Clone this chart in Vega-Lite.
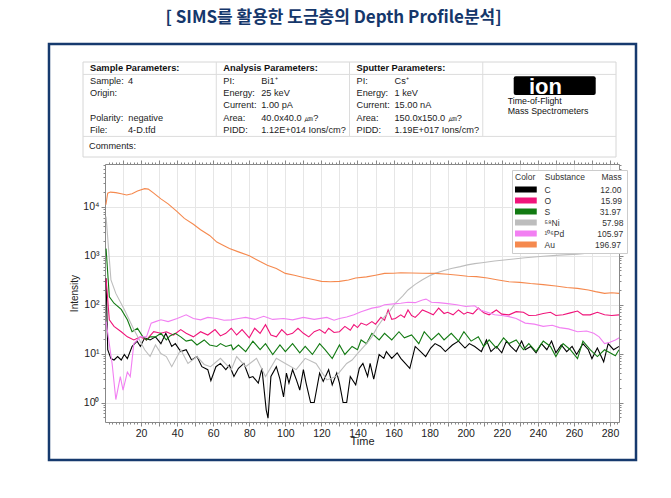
{
"$schema": "https://vega.github.io/schema/vega-lite/v6.json",
"background": "white",
"padding": {"left": 47, "top": 8, "right": 5, "bottom": 5},
"title": {"text": "[ SIMS를 활용한 도금층의 Depth Profile분석]", "font": "Noto Sans CJK KR", "fontSize": 17, "fontWeight": "bold", "color": "#15376b", "anchor": "middle", "offset": 16, "dx": -9},
"bounds": "flush",
"spacing": 7,
"config": {"font": "Liberation Sans", "view": {"stroke": null}},
"datasets": {
"cells": [
{"col":0,"row":0,"label":"Sample Parameters:","value":""},
{"col":1,"row":0,"label":"Analysis Parameters:","value":""},
{"col":2,"row":0,"label":"Sputter Parameters:","value":""},
{"col":0,"row":1,"label":"Sample:","value":"4"},
{"col":0,"row":2,"label":"Origin:","value":""},
{"col":0,"row":4,"label":"Polarity:\u00a0\u00a0negative","value":""},
{"col":0,"row":5,"label":"File:","value":"4-D.tfd"},
{"col":1,"row":1,"label":"PI:","value":"Bi1⁺"},
{"col":1,"row":2,"label":"Energy:","value":"25 keV"},
{"col":1,"row":3,"label":"Current:","value":"1.00 pA"},
{"col":1,"row":4,"label":"Area:","value":"40.0x40.0 ㎛?"},
{"col":1,"row":5,"label":"PIDD:","value":"1.12E+014 Ions/cm?"},
{"col":2,"row":1,"label":"PI:","value":"Cs⁺"},
{"col":2,"row":2,"label":"Energy:","value":"1 keV"},
{"col":2,"row":3,"label":"Current:","value":"15.00 nA"},
{"col":2,"row":4,"label":"Area:","value":"150.0x150.0 ㎛?"},
{"col":2,"row":5,"label":"PIDD:","value":"1.19E+017 Ions/cm?"},
{"col":0,"row":6,"label":"Comments:","value":""}
],
"series": [
{"s":"C","t":0.6,"v":345},{"s":"C","t":1.5,"v":12},{"s":"C","t":3.3,"v":7.9},{"s":"C","t":5,"v":7.4},{"s":"C","t":7,"v":8.7},{"s":"C","t":9,"v":7.4},{"s":"C","t":10.7,"v":9.6},{"s":"C","t":12.4,"v":7.9},{"s":"C","t":15,"v":14},{"s":"C","t":17.8,"v":18},{"s":"C","t":19.6,"v":14},{"s":"C","t":22,"v":21},{"s":"C","t":25,"v":19},{"s":"C","t":28,"v":22},{"s":"C","t":31,"v":16},{"s":"C","t":33.7,"v":26},{"s":"C","t":37,"v":14},{"s":"C","t":39,"v":16},{"s":"C","t":42,"v":11},{"s":"C","t":45,"v":12},{"s":"C","t":48,"v":7.4},{"s":"C","t":51,"v":8.7},{"s":"C","t":53.7,"v":5.4},{"s":"C","t":57,"v":4.7},{"s":"C","t":58.7,"v":2.8},{"s":"C","t":61.5,"v":5.4},{"s":"C","t":64,"v":6.3},{"s":"C","t":67,"v":4.7},{"s":"C","t":69,"v":5.8},{"s":"C","t":71.5,"v":3.4},{"s":"C","t":74,"v":5},{"s":"C","t":77,"v":6.3},{"s":"C","t":80,"v":3.2},{"s":"C","t":82,"v":3.4},{"s":"C","t":85,"v":2.5},{"s":"C","t":87,"v":5},{"s":"C","t":89.4,"v":0.7},{"s":"C","t":90.4,"v":0.48},{"s":"C","t":92,"v":3.4},{"s":"C","t":95,"v":5.4},{"s":"C","t":97,"v":3},{"s":"C","t":99,"v":1.3},{"s":"C","t":100.6,"v":4},{"s":"C","t":102,"v":2.5},{"s":"C","t":104,"v":4.7},{"s":"C","t":106,"v":3},{"s":"C","t":108,"v":1.8},{"s":"C","t":110,"v":4.7},{"s":"C","t":111.5,"v":2.5},{"s":"C","t":114,"v":1},{"s":"C","t":116,"v":1},{"s":"C","t":119,"v":4},{"s":"C","t":121,"v":2.7},{"s":"C","t":124,"v":4.7},{"s":"C","t":126,"v":2.3},{"s":"C","t":128.5,"v":4},{"s":"C","t":130,"v":2.5},{"s":"C","t":132,"v":1},{"s":"C","t":134,"v":1},{"s":"C","t":136,"v":3.4},{"s":"C","t":139,"v":2.3},{"s":"C","t":141,"v":5},{"s":"C","t":143,"v":6.3},{"s":"C","t":145.6,"v":3.4},{"s":"C","t":147,"v":6.3},{"s":"C","t":149,"v":3},{"s":"C","t":152,"v":9.6},{"s":"C","t":154.6,"v":8},{"s":"C","t":156,"v":11},{"s":"C","t":159,"v":8},{"s":"C","t":162,"v":10.4},{"s":"C","t":164,"v":8},{"s":"C","t":166.5,"v":6.3},{"s":"C","t":169,"v":5},{"s":"C","t":172,"v":14},{"s":"C","t":175,"v":11},{"s":"C","t":177.8,"v":8.7},{"s":"C","t":180.6,"v":13},{"s":"C","t":183,"v":16},{"s":"C","t":186,"v":14},{"s":"C","t":188.7,"v":11},{"s":"C","t":192.6,"v":15},{"s":"C","t":196,"v":18},{"s":"C","t":199.6,"v":13},{"s":"C","t":202,"v":16},{"s":"C","t":205,"v":14},{"s":"C","t":208.7,"v":11},{"s":"C","t":211.5,"v":19},{"s":"C","t":214,"v":11},{"s":"C","t":217,"v":14},{"s":"C","t":220,"v":10.4},{"s":"C","t":222.6,"v":18},{"s":"C","t":225,"v":14},{"s":"C","t":228,"v":11},{"s":"C","t":231,"v":18},{"s":"C","t":233,"v":12},{"s":"C","t":236,"v":14},{"s":"C","t":239,"v":10.4},{"s":"C","t":242,"v":16},{"s":"C","t":245,"v":12},{"s":"C","t":247.6,"v":18},{"s":"C","t":250,"v":10.4},{"s":"C","t":253,"v":15},{"s":"C","t":256,"v":11},{"s":"C","t":259,"v":14},{"s":"C","t":261.5,"v":9.6},{"s":"C","t":265,"v":16},{"s":"C","t":268,"v":12},{"s":"C","t":270,"v":7.9},{"s":"C","t":273,"v":13},{"s":"C","t":276.5,"v":6.8},{"s":"C","t":279,"v":16},{"s":"C","t":282,"v":12},{"s":"C","t":285,"v":14},
{"s":"O","t":0.6,"v":340},{"s":"O","t":2.4,"v":49},{"s":"O","t":5,"v":36},{"s":"O","t":9,"v":28},{"s":"O","t":12.4,"v":22},{"s":"O","t":16,"v":19},{"s":"O","t":19.6,"v":22},{"s":"O","t":23,"v":19},{"s":"O","t":27,"v":28},{"s":"O","t":31,"v":26},{"s":"O","t":34,"v":28},{"s":"O","t":38,"v":24},{"s":"O","t":42,"v":31},{"s":"O","t":45,"v":26},{"s":"O","t":49,"v":22},{"s":"O","t":53,"v":28},{"s":"O","t":57,"v":24},{"s":"O","t":61,"v":31},{"s":"O","t":64,"v":23},{"s":"O","t":67,"v":26},{"s":"O","t":70,"v":33},{"s":"O","t":73,"v":24},{"s":"O","t":76,"v":31},{"s":"O","t":80,"v":21},{"s":"O","t":83,"v":33},{"s":"O","t":86,"v":26},{"s":"O","t":89,"v":39},{"s":"O","t":92,"v":24},{"s":"O","t":95,"v":22},{"s":"O","t":98,"v":31},{"s":"O","t":101,"v":24},{"s":"O","t":104,"v":26},{"s":"O","t":107,"v":33},{"s":"O","t":110,"v":26},{"s":"O","t":113,"v":22},{"s":"O","t":116,"v":28},{"s":"O","t":119,"v":31},{"s":"O","t":122,"v":26},{"s":"O","t":124,"v":33},{"s":"O","t":127,"v":27},{"s":"O","t":130,"v":28},{"s":"O","t":133,"v":36},{"s":"O","t":136,"v":30},{"s":"O","t":138,"v":39},{"s":"O","t":140,"v":34},{"s":"O","t":142,"v":42},{"s":"O","t":145,"v":38},{"s":"O","t":148,"v":45},{"s":"O","t":150,"v":40},{"s":"O","t":153,"v":55},{"s":"O","t":155,"v":48},{"s":"O","t":157,"v":78},{"s":"O","t":159,"v":50},{"s":"O","t":161,"v":52},{"s":"O","t":164,"v":62},{"s":"O","t":166,"v":55},{"s":"O","t":168,"v":78},{"s":"O","t":170,"v":60},{"s":"O","t":172,"v":55},{"s":"O","t":174,"v":65},{"s":"O","t":176,"v":78},{"s":"O","t":179,"v":70},{"s":"O","t":182,"v":62},{"s":"O","t":185,"v":85},{"s":"O","t":188,"v":66},{"s":"O","t":190,"v":70},{"s":"O","t":193,"v":62},{"s":"O","t":196,"v":78},{"s":"O","t":199,"v":64},{"s":"O","t":201,"v":70},{"s":"O","t":204,"v":65},{"s":"O","t":207,"v":85},{"s":"O","t":210,"v":68},{"s":"O","t":213,"v":62},{"s":"O","t":217,"v":78},{"s":"O","t":220,"v":64},{"s":"O","t":224,"v":62},{"s":"O","t":228,"v":72},{"s":"O","t":232,"v":70},{"s":"O","t":235,"v":60},{"s":"O","t":239,"v":61},{"s":"O","t":243,"v":66},{"s":"O","t":247,"v":70},{"s":"O","t":250,"v":60},{"s":"O","t":254,"v":62},{"s":"O","t":258,"v":68},{"s":"O","t":262,"v":74},{"s":"O","t":265,"v":62},{"s":"O","t":269,"v":62},{"s":"O","t":273,"v":70},{"s":"O","t":277,"v":62},{"s":"O","t":281,"v":60},{"s":"O","t":285,"v":62},
{"s":"S","t":0.6,"v":1400},{"s":"S","t":2.4,"v":145},{"s":"S","t":5,"v":107},{"s":"S","t":9,"v":80},{"s":"S","t":12.4,"v":49},{"s":"S","t":15,"v":28},{"s":"S","t":18,"v":33},{"s":"S","t":21,"v":22},{"s":"S","t":23,"v":19},{"s":"S","t":25,"v":22},{"s":"S","t":28,"v":22},{"s":"S","t":31,"v":26},{"s":"S","t":34,"v":19},{"s":"S","t":36,"v":23},{"s":"S","t":39,"v":26},{"s":"S","t":42,"v":22},{"s":"S","t":45,"v":18},{"s":"S","t":48,"v":19},{"s":"S","t":51,"v":15},{"s":"S","t":55,"v":19},{"s":"S","t":58,"v":15},{"s":"S","t":62,"v":14},{"s":"S","t":64,"v":16},{"s":"S","t":67,"v":14},{"s":"S","t":70,"v":15},{"s":"S","t":71,"v":12},{"s":"S","t":74,"v":15},{"s":"S","t":78,"v":11},{"s":"S","t":82,"v":18},{"s":"S","t":86,"v":12},{"s":"S","t":89,"v":16},{"s":"S","t":93,"v":9.6},{"s":"S","t":97,"v":15},{"s":"S","t":100,"v":11},{"s":"S","t":104,"v":16},{"s":"S","t":108,"v":10.4},{"s":"S","t":111,"v":14},{"s":"S","t":115,"v":9.6},{"s":"S","t":119,"v":16},{"s":"S","t":122,"v":12},{"s":"S","t":126,"v":7.9},{"s":"S","t":130,"v":15},{"s":"S","t":133,"v":9.6},{"s":"S","t":137,"v":14},{"s":"S","t":140,"v":12},{"s":"S","t":142,"v":19},{"s":"S","t":145,"v":16},{"s":"S","t":148,"v":26},{"s":"S","t":152,"v":19},{"s":"S","t":155,"v":26},{"s":"S","t":159,"v":19},{"s":"S","t":163,"v":28},{"s":"S","t":166,"v":21},{"s":"S","t":170,"v":24},{"s":"S","t":174,"v":16},{"s":"S","t":177,"v":28},{"s":"S","t":181,"v":19},{"s":"S","t":185,"v":26},{"s":"S","t":188,"v":19},{"s":"S","t":192,"v":26},{"s":"S","t":196,"v":18},{"s":"S","t":199,"v":28},{"s":"S","t":203,"v":18},{"s":"S","t":207,"v":22},{"s":"S","t":210,"v":14},{"s":"S","t":213,"v":19},{"s":"S","t":217,"v":13},{"s":"S","t":221,"v":21},{"s":"S","t":224,"v":16},{"s":"S","t":228,"v":19},{"s":"S","t":232,"v":12},{"s":"S","t":235,"v":16},{"s":"S","t":239,"v":11},{"s":"S","t":243,"v":18},{"s":"S","t":247,"v":14},{"s":"S","t":250,"v":8.7},{"s":"S","t":254,"v":16},{"s":"S","t":258,"v":12},{"s":"S","t":262,"v":7.9},{"s":"S","t":265,"v":18},{"s":"S","t":269,"v":12},{"s":"S","t":273,"v":8.7},{"s":"S","t":277,"v":12},{"s":"S","t":280,"v":10.4},{"s":"S","t":283,"v":9},{"s":"S","t":285,"v":12},
{"s":"Ni","t":0.6,"v":6300},{"s":"Ni","t":3.3,"v":320},{"s":"Ni","t":6,"v":170},{"s":"Ni","t":10.7,"v":80},{"s":"Ni","t":16,"v":31},{"s":"Ni","t":22,"v":12},{"s":"Ni","t":25,"v":8.7},{"s":"Ni","t":28,"v":15},{"s":"Ni","t":31,"v":10},{"s":"Ni","t":34,"v":8.7},{"s":"Ni","t":37,"v":5.4},{"s":"Ni","t":42,"v":12},{"s":"Ni","t":46,"v":6.3},{"s":"Ni","t":51,"v":8.7},{"s":"Ni","t":55,"v":6},{"s":"Ni","t":58.5,"v":5.4},{"s":"Ni","t":64,"v":8},{"s":"Ni","t":70,"v":4.7},{"s":"Ni","t":73,"v":8.7},{"s":"Ni","t":78,"v":5.4},{"s":"Ni","t":84,"v":8},{"s":"Ni","t":89,"v":3.4},{"s":"Ni","t":95,"v":8},{"s":"Ni","t":100,"v":6.3},{"s":"Ni","t":106,"v":4.7},{"s":"Ni","t":111,"v":8},{"s":"Ni","t":117,"v":6.3},{"s":"Ni","t":123,"v":2.9},{"s":"Ni","t":128,"v":3.4},{"s":"Ni","t":134,"v":6.3},{"s":"Ni","t":137,"v":7.4},{"s":"Ni","t":140,"v":10},{"s":"Ni","t":142,"v":12},{"s":"Ni","t":145,"v":16},{"s":"Ni","t":148,"v":22},{"s":"Ni","t":151,"v":35},{"s":"Ni","t":155,"v":57},{"s":"Ni","t":158,"v":75},{"s":"Ni","t":161,"v":107},{"s":"Ni","t":165,"v":150},{"s":"Ni","t":168,"v":200},{"s":"Ni","t":172,"v":260},{"s":"Ni","t":176,"v":324},{"s":"Ni","t":180,"v":390},{"s":"Ni","t":183,"v":436},{"s":"Ni","t":188,"v":500},{"s":"Ni","t":192,"v":550},{"s":"Ni","t":197,"v":600},{"s":"Ni","t":201,"v":650},{"s":"Ni","t":205,"v":690},{"s":"Ni","t":209,"v":720},{"s":"Ni","t":216,"v":780},{"s":"Ni","t":224,"v":840},{"s":"Ni","t":233,"v":910},{"s":"Ni","t":243,"v":980},{"s":"Ni","t":252,"v":1030},{"s":"Ni","t":262,"v":1080},{"s":"Ni","t":270,"v":1150},{"s":"Ni","t":278,"v":1200},{"s":"Ni","t":285,"v":1270},
{"s":"Pd","t":0.6,"v":45},{"s":"Pd","t":2,"v":20},{"s":"Pd","t":4,"v":6},{"s":"Pd","t":6,"v":1.15},{"s":"Pd","t":8.5,"v":3.4},{"s":"Pd","t":10,"v":1.8},{"s":"Pd","t":12.4,"v":4.2},{"s":"Pd","t":14,"v":3.4},{"s":"Pd","t":16,"v":16},{"s":"Pd","t":19.6,"v":22},{"s":"Pd","t":23,"v":22},{"s":"Pd","t":25.6,"v":42},{"s":"Pd","t":28,"v":45},{"s":"Pd","t":31,"v":49},{"s":"Pd","t":35,"v":45},{"s":"Pd","t":40,"v":52},{"s":"Pd","t":45,"v":62},{"s":"Pd","t":49,"v":52},{"s":"Pd","t":53,"v":49},{"s":"Pd","t":57,"v":55},{"s":"Pd","t":62,"v":52},{"s":"Pd","t":66,"v":48},{"s":"Pd","t":70,"v":49},{"s":"Pd","t":74,"v":52},{"s":"Pd","t":78,"v":55},{"s":"Pd","t":83,"v":50},{"s":"Pd","t":88,"v":58},{"s":"Pd","t":93,"v":50},{"s":"Pd","t":99,"v":52},{"s":"Pd","t":104,"v":49},{"s":"Pd","t":110,"v":55},{"s":"Pd","t":116,"v":50},{"s":"Pd","t":123,"v":55},{"s":"Pd","t":127,"v":48},{"s":"Pd","t":130,"v":52},{"s":"Pd","t":134,"v":56},{"s":"Pd","t":138,"v":62},{"s":"Pd","t":142,"v":72},{"s":"Pd","t":148,"v":85},{"s":"Pd","t":152,"v":90},{"s":"Pd","t":155,"v":100},{"s":"Pd","t":160,"v":104},{"s":"Pd","t":164,"v":107},{"s":"Pd","t":168,"v":112},{"s":"Pd","t":172,"v":110},{"s":"Pd","t":176,"v":125},{"s":"Pd","t":178,"v":130},{"s":"Pd","t":181,"v":112},{"s":"Pd","t":185,"v":110},{"s":"Pd","t":190,"v":105},{"s":"Pd","t":195,"v":100},{"s":"Pd","t":200,"v":92},{"s":"Pd","t":205,"v":95},{"s":"Pd","t":208,"v":78},{"s":"Pd","t":212,"v":70},{"s":"Pd","t":216,"v":62},{"s":"Pd","t":220,"v":60},{"s":"Pd","t":224,"v":57},{"s":"Pd","t":228,"v":52},{"s":"Pd","t":233,"v":42},{"s":"Pd","t":238,"v":40},{"s":"Pd","t":243,"v":36},{"s":"Pd","t":248,"v":38},{"s":"Pd","t":252,"v":34},{"s":"Pd","t":257,"v":32},{"s":"Pd","t":262,"v":28},{"s":"Pd","t":267,"v":29},{"s":"Pd","t":271,"v":26},{"s":"Pd","t":274,"v":22},{"s":"Pd","t":277,"v":16},{"s":"Pd","t":280,"v":17},{"s":"Pd","t":283,"v":19},{"s":"Pd","t":286,"v":22},
{"s":"Au","t":0.5,"v":11000},{"s":"Au","t":1.5,"v":19000},{"s":"Au","t":3,"v":20000},{"s":"Au","t":6,"v":19500},{"s":"Au","t":9,"v":18500},{"s":"Au","t":12,"v":17500},{"s":"Au","t":15,"v":18500},{"s":"Au","t":18,"v":21000},{"s":"Au","t":22,"v":23500},{"s":"Au","t":24,"v":23000},{"s":"Au","t":27,"v":19000},{"s":"Au","t":31,"v":14500},{"s":"Au","t":35,"v":11500},{"s":"Au","t":40,"v":8000},{"s":"Au","t":44,"v":5800},{"s":"Au","t":49,"v":4400},{"s":"Au","t":53,"v":3400},{"s":"Au","t":58,"v":2600},{"s":"Au","t":62,"v":1900},{"s":"Au","t":66,"v":1600},{"s":"Au","t":69,"v":1400},{"s":"Au","t":74,"v":1200},{"s":"Au","t":80,"v":1000},{"s":"Au","t":86,"v":760},{"s":"Au","t":90,"v":640},{"s":"Au","t":95,"v":550},{"s":"Au","t":100,"v":436},{"s":"Au","t":105,"v":400},{"s":"Au","t":110,"v":360},{"s":"Au","t":116,"v":324},{"s":"Au","t":120,"v":300},{"s":"Au","t":125,"v":295},{"s":"Au","t":130,"v":300},{"s":"Au","t":135,"v":320},{"s":"Au","t":139,"v":350},{"s":"Au","t":145,"v":370},{"s":"Au","t":150,"v":400},{"s":"Au","t":155,"v":436},{"s":"Au","t":160,"v":440},{"s":"Au","t":164,"v":450},{"s":"Au","t":170,"v":445},{"s":"Au","t":176,"v":440},{"s":"Au","t":183,"v":436},{"s":"Au","t":190,"v":420},{"s":"Au","t":196,"v":400},{"s":"Au","t":201,"v":380},{"s":"Au","t":206,"v":374},{"s":"Au","t":212,"v":350},{"s":"Au","t":218,"v":320},{"s":"Au","t":224,"v":295},{"s":"Au","t":230,"v":285},{"s":"Au","t":236,"v":270},{"s":"Au","t":243,"v":257},{"s":"Au","t":250,"v":240},{"s":"Au","t":256,"v":225},{"s":"Au","t":262,"v":215},{"s":"Au","t":268,"v":200},{"s":"Au","t":272,"v":185},{"s":"Au","t":277,"v":170},{"s":"Au","t":281,"v":175},{"s":"Au","t":285,"v":170}
]
},
"vconcat": [
{
"width": 511, "height": 95,
"layer": [
{"data": {"values": [{}]}, "mark": {"type": "rect", "fill": null, "fillOpacity": 0, "stroke": "#163a6e", "strokeWidth": 2.5},
 "encoding": {"x": {"datum": -0.2552, "type": "quantitative", "scale": {"domain": [0.1651, 4], "nice": false, "zero": false}, "axis": null}, "x2": {"datum": 4.1501},
  "y": {"datum": -1.4516, "type": "quantitative", "scale": {"domain": [0, 7.66], "reverse": true, "nice": false, "zero": false}, "axis": null}, "y2": {"datum": 32.097}}},
{"data": {"values": [{}]}, "mark": {"type": "rect", "fill": null, "fillOpacity": 0, "stroke": "#d6d6d6", "strokeWidth": 1},
 "encoding": {"x": {"datum": 0, "type": "quantitative"}, "x2": {"datum": 4}, "y": {"datum": 0, "type": "quantitative"}, "y2": {"datum": 7.66}}},
{"data": {"values": [{"row":1},{"row":6}]}, "mark": {"type": "rule", "color": "#dcdcdc"},
 "encoding": {"y": {"field": "row", "type": "quantitative"}, "x": {"datum": 0, "type": "quantitative"}, "x2": {"datum": 4}}},
{"data": {"values": [{"col":1},{"col":2},{"col":3}]}, "mark": {"type": "rule", "color": "#dcdcdc"},
 "encoding": {"x": {"field": "col", "type": "quantitative"}, "y": {"datum": 0, "type": "quantitative"}, "y2": {"datum": 6}}},
{"data": {"name": "cells"}, "transform": [{"filter": "datum.row === 0"}],
 "mark": {"type": "text", "align": "left", "baseline": "middle", "dx": 7, "dy": 6.2, "fontSize": 9.3, "fontWeight": "bold", "color": "#111"},
 "encoding": {"x": {"field": "col", "type": "quantitative"}, "y": {"field": "row", "type": "quantitative"}, "text": {"field": "label"}}},
{"data": {"name": "cells"}, "transform": [{"filter": "datum.row >= 1 && datum.row <= 5"}],
 "mark": {"type": "text", "align": "left", "baseline": "middle", "dx": 7, "dy": 6.2, "fontSize": 9.2, "color": "#222"},
 "encoding": {"x": {"field": "col", "type": "quantitative"}, "y": {"field": "row", "type": "quantitative"}, "text": {"field": "label"}}},
{"data": {"name": "cells"}, "transform": [{"filter": "datum.row >= 1 && datum.row <= 5"}],
 "mark": {"type": "text", "align": "left", "baseline": "middle", "dx": 45, "dy": 6.2, "fontSize": 9.2, "color": "#222"},
 "encoding": {"x": {"field": "col", "type": "quantitative"}, "y": {"field": "row", "type": "quantitative"}, "text": {"field": "value"}}},
{"data": {"name": "cells"}, "transform": [{"filter": "datum.row === 6"}],
 "mark": {"type": "text", "align": "left", "baseline": "middle", "dx": 6, "dy": 10, "fontSize": 9.2, "color": "#222"},
 "encoding": {"x": {"field": "col", "type": "quantitative"}, "y": {"field": "row", "type": "quantitative"}, "text": {"field": "label"}}},
{"data": {"values": [{}]}, "mark": {"type": "point", "shape": "M-0.95,-0.23H0.95Q1,-0.23 1,-0.18V0.18Q1,0.23 0.95,0.23H-0.95Q-1,0.23 -1,0.18V-0.18Q-1,-0.23 -0.95,-0.23Z", "size": 6724, "filled": true, "color": "#000", "opacity": 1},
 "encoding": {"x": {"datum": 3.54, "type": "quantitative"}, "y": {"datum": 1.9, "type": "quantitative"}}},
{"data": {"values": [{}]}, "mark": {"type": "text", "text": "ion", "font": "Liberation Sans", "fontSize": 22, "fontWeight": "bold", "color": "#fff", "align": "center", "baseline": "alphabetic"},
 "encoding": {"x": {"datum": 3.47, "type": "quantitative"}, "y": {"datum": 2.58, "type": "quantitative"}}},
{"data": {"values": [{}]}, "mark": {"type": "text", "text": ["Time-of-Flight", "Mass Spectrometers"], "fontSize": 8.8, "color": "#111", "align": "left", "baseline": "alphabetic", "dx": 25, "dy": 4.8, "lineHeight": 10},
 "encoding": {"x": {"datum": 3, "type": "quantitative"}, "y": {"datum": 3, "type": "quantitative"}}}
]
},
{
"width": 514, "height": 258,
"data": {"name": "series"},
"layer": [
{"mark": {"type": "line", "strokeWidth": 1.1, "clip": true},
 "encoding": {
  "x": {"field": "t", "type": "quantitative", "scale": {"domain": [0, 285], "nice": false, "zero": false},
   "axis": {"orient": "bottom", "values": [2,4,6,8,10,12,14,16,18,20,22,24,26,28,30,32,34,36,38,40,42,44,46,48,50,52,54,56,58,60,62,64,66,68,70,72,74,76,78,80,82,84,86,88,90,92,94,96,98,100,102,104,106,108,110,112,114,116,118,120,122,124,126,128,130,132,134,136,138,140,142,144,146,148,150,152,154,156,158,160,162,164,166,168,170,172,174,176,178,180,182,184,186,188,190,192,194,196,198,200,202,204,206,208,210,212,214,216,218,220,222,224,226,228,230,232,234,236,238,240,242,244,246,248,250,252,254,256,258,260,262,264,266,268,270,272,274,276,278,280,282,284],
    "labelExpr": "datum.value % 20 === 0 ? datum.label : ''", "labelOverlap": false, "labelFlush": false,
    "tickSize": {"condition": {"test": "datum.value % 10 === 0", "value": 4}, "value": 2},
    "grid": true, "gridColor": "#e6e6e6", "gridOpacity": {"condition": {"test": "datum.value % 10 === 0", "value": 1}, "value": 0},
    "domainColor": "#888", "tickColor": "#888", "labelFontSize": 10.5, "labelColor": "#222", "labelPadding": 2,
    "title": "Time", "titleFontSize": 11, "titleFontWeight": "normal", "titleColor": "#222", "titlePadding": -3}},
  "y": {"field": "v", "type": "quantitative", "scale": {"type": "log", "domain": [0.4, 75000], "nice": false},
   "axis": {"orient": "left", "values": [0.5,0.6,0.7,0.8,0.9,1,2,3,4,5,6,7,8,9,10,20,30,40,50,60,70,80,90,100,200,300,400,500,600,700,800,900,1000,2000,3000,4000,5000,6000,7000,8000,9000,10000,20000,30000,40000,50000,60000,70000],
    "labelExpr": "datum.value === 1 ? '10⁰' : datum.value === 10 ? '10¹' : datum.value === 100 ? '10²' : datum.value === 1000 ? '10³' : datum.value === 10000 ? '10⁴' : ''",
    "labelOverlap": false, "labelFlush": false,
    "tickSize": {"condition": {"test": "datum.value === 1 || datum.value === 10 || datum.value === 100 || datum.value === 1000 || datum.value === 10000", "value": 4}, "value": 2},
    "grid": true, "gridColor": "#e6e6e6", "gridOpacity": {"condition": {"test": "datum.value === 1 || datum.value === 10 || datum.value === 100 || datum.value === 1000 || datum.value === 10000", "value": 1}, "value": 0},
    "domainColor": "#888", "tickColor": "#888", "labelFontSize": 10.5, "labelColor": "#222", "labelPadding": 2,
    "title": "Intensity", "titleFontSize": 10, "titleFontWeight": "normal", "titleColor": "#222", "titlePadding": 3}},
  "color": {"field": "s", "type": "nominal",
   "scale": {"domain": ["C", "O", "S", "Ni", "Pd", "Au"], "range": ["#000000", "#f0147a", "#127a12", "#bdbdbd", "#f27ff2", "#f5894e"]},
   "legend": {"orient": "none", "legendX": 407, "legendY": 108,
    "title": "Color\u00a0\u00a0\u00a0\u00a0Substance\u00a0\u00a0\u00a0\u00a0\u00a0\u00a0\u00a0Mass",
    "titleFontSize": 8.5, "titleFontWeight": "normal", "titleColor": "#333", "titlePadding": 3,
    "labelFontSize": 8.5, "labelColor": "#333",
    "labelExpr": "datum.label === 'C' ? 'C' + pad('', 21, '\u00a0') + '12.00' : datum.label === 'O' ? 'O' + pad('', 21, '\u00a0') + '15.99' : datum.label === 'S' ? 'S' + pad('', 21, '\u00a0') + '31.97' : datum.label === 'Ni' ? '⁵⁸Ni' + pad('', 18, '\u00a0') + '57.98' : datum.label === 'Pd' ? '¹⁰⁶Pd' + pad('', 14, '\u00a0') + '105.97' : 'Au' + pad('', 17, '\u00a0') + '196.97'",
    "symbolType": "M-4.5,0H17.5", "symbolSize": 4, "symbolStrokeWidth": 6, "labelOffset": 21,
    "clipHeight": 10, "rowPadding": 1, "padding": 3, "strokeColor": "#cccccc", "fillColor": "#ffffff"}}
 }},
{"mark": {"type": "point", "opacity": 0},
 "encoding": {
  "x": {"field": "t", "type": "quantitative", "scale": {"domain": [0, 285], "nice": false, "zero": false},
   "axis": {"orient": "top", "values": [2,4,6,8,10,12,14,16,18,20,22,24,26,28,30,32,34,36,38,40,42,44,46,48,50,52,54,56,58,60,62,64,66,68,70,72,74,76,78,80,82,84,86,88,90,92,94,96,98,100,102,104,106,108,110,112,114,116,118,120,122,124,126,128,130,132,134,136,138,140,142,144,146,148,150,152,154,156,158,160,162,164,166,168,170,172,174,176,178,180,182,184,186,188,190,192,194,196,198,200,202,204,206,208,210,212,214,216,218,220,222,224,226,228,230,232,234,236,238,240,242,244,246,248,250,252,254,256,258,260,262,264,266,268,270,272,274,276,278,280,282,284],
    "labels": false, "grid": false, "title": null, "domainColor": "#888", "tickColor": "#888",
    "tickSize": {"condition": {"test": "datum.value % 10 === 0", "value": 4}, "value": 2}}},
  "y": {"field": "v", "type": "quantitative", "scale": {"type": "log", "domain": [0.4, 75000], "nice": false},
   "axis": {"orient": "right", "values": [0.5,0.6,0.7,0.8,0.9,1,2,3,4,5,6,7,8,9,10,20,30,40,50,60,70,80,90,100,200,300,400,500,600,700,800,900,1000,2000,3000,4000,5000,6000,7000,8000,9000,10000,20000,30000,40000,50000,60000,70000],
    "labels": false, "grid": false, "title": null, "domainColor": "#888", "tickColor": "#888",
    "tickSize": {"condition": {"test": "datum.value === 1 || datum.value === 10 || datum.value === 100 || datum.value === 1000 || datum.value === 10000", "value": 4}, "value": 2}}}
 }}
]
}
]
}
